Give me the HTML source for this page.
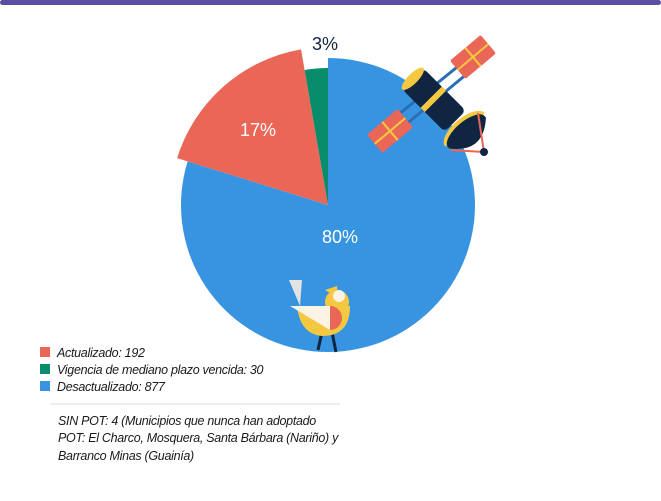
<!DOCTYPE html>
<html><head><meta charset="utf-8"><style>
body{margin:0;background:#fff;}
svg{display:block;font-family:"Liberation Sans",sans-serif;}
.lg{font-size:12.5px;font-style:italic;fill:#1a1a1a;letter-spacing:-0.3px;}
</style></head><body>
<svg id="c" width="661" height="501" viewBox="0 0 661 501" xmlns="http://www.w3.org/2000/svg">
<rect x="0" y="0" width="661" height="5" rx="2.5" fill="#5a4ea3"/>
<g id="slices"></g>
<g id="labels"></g>
<g>
 <line x1="372" y1="136" x2="472" y2="55" stroke="#2b6fb3" stroke-width="3"/>
 <line x1="380" y1="146" x2="480" y2="63" stroke="#2b6fb3" stroke-width="3"/>
 <g transform="translate(473,57) rotate(-40)"><rect x="-20" y="-12" width="40" height="24" rx="2" fill="#ea6657"/><line x1="0" y1="-12" x2="0" y2="12" stroke="#f5c842" stroke-width="2"/><line x1="-20" y1="0" x2="20" y2="0" stroke="#f5c842" stroke-width="2"/></g>
 <g transform="translate(390,131) rotate(-40)"><rect x="-20" y="-12" width="40" height="24" rx="2" fill="#ea6657"/><line x1="0" y1="-12" x2="0" y2="12" stroke="#f5c842" stroke-width="2"/><line x1="-20" y1="0" x2="20" y2="0" stroke="#f5c842" stroke-width="2"/></g>
 <g transform="translate(434,100) rotate(45)"><rect x="-30" y="-15" width="60" height="30" rx="5" fill="#102542"/><ellipse cx="-30" cy="0" rx="5" ry="15" fill="#f5c842"/><rect x="-4" y="-15" width="6" height="30" fill="#f5c842"/></g>
 <g transform="translate(465,130) rotate(-40)"><path d="M-26,0 A26,12 0 0 1 26,0 Z" fill="#f5c842"/><path d="M-24,2 A24,10 0 0 1 24,2 L24,4 Q0,30 -24,4 Z" fill="#102542"/></g>
 <line x1="450" y1="150" x2="484" y2="152" stroke="#ea6657" stroke-width="2"/>
 <line x1="484" y1="152" x2="478" y2="113" stroke="#ea6657" stroke-width="2"/>
 <circle cx="484" cy="152" r="4" fill="#102542"/>
</g>
<g>
 <line x1="322" y1="332" x2="318" y2="350" stroke="#102542" stroke-width="3"/>
 <line x1="332" y1="332" x2="336" y2="352" stroke="#102542" stroke-width="3"/>
 <polygon points="289,280 302,280 300,306" fill="#e3e3e3"/>
 <path d="M297,306 L350,306 Q350,336 322,336 Q300,334 297,306 Z" fill="#f5c842"/>
 <circle cx="337" cy="302" r="12" fill="#f5c842"/>
 <path d="M325,290 L337,286 L338,298 Z" fill="#f5c842"/>
 <circle cx="339" cy="296" r="6" fill="#fbf3e4"/>
 <polygon points="290,306 330,306 330,330" fill="#fbf3e4"/>
 <path d="M330,306 A12,12 0 0 1 330,330 Z" fill="#ea6657"/>
</g>
<g id="legend" class="lg">
 <rect x="40" y="347" width="10" height="10" fill="#ea6657"/>
 <text x="57" y="357">Actualizado: 192</text>
 <rect x="40" y="364" width="10" height="10" fill="#078c6c"/>
 <text x="57" y="374">Vigencia de mediano plazo vencida: 30</text>
 <rect x="40" y="381" width="10" height="10" fill="#3794e0"/>
 <text x="57" y="391">Desactualizado: 877</text>
 <line x1="50" y1="404" x2="340" y2="404" stroke="#dddddd" stroke-width="1"/>
 <text x="58" y="425">SIN POT: 4 (Municipios que nunca han adoptado</text>
 <text x="58" y="442">POT: El Charco, Mosquera, Santa Bárbara (Nariño) y</text>
 <text x="58" y="460">Barranco Minas (Guainía)</text>
</g>
</svg>
<script>
const categories=["Desactualizado","Actualizado","Vigencia de mediano plazo vencida"];
const values=[877,192,30];
const pctLabels=["80%","17%","3%"];
const colors=["#3794e0","#ea6657","#078c6c"];
const radii=[147,158,137];
const cx=328,cy=205;
const total=values.reduce((a,b)=>a+b,0);
const ns="http://www.w3.org/2000/svg";
function pt(a,r){return [cx+r*Math.sin(a),cy-r*Math.cos(a)];}
let start=0;
const sg=document.getElementById('slices'),lg=document.getElementById('labels');
values.forEach((v,i)=>{
 const ang=v/total*2*Math.PI,end=start+ang,r=radii[i];
 const p1=pt(start,r),p2=pt(end,r);
 const p=document.createElementNS(ns,'path');
 p.setAttribute('d',`M${cx},${cy} L${p1[0]},${p1[1]} A${r},${r} 0 ${ang>Math.PI?1:0} 1 ${p2[0]},${p2[1]} Z`);
 p.setAttribute('fill',colors[i]);
 
 
 sg.appendChild(p);
 const mid=start+ang/2;
 let lp,fill='#fff';
 if(i===2){lp=[325,50];fill='#102542';}
 else if(i===1){lp=[258,136];}
 else{lp=[340,243];}
 const t=document.createElementNS(ns,'text');
 t.setAttribute('x',lp[0]);t.setAttribute('y',lp[1]);
 t.setAttribute('text-anchor','middle');
 t.setAttribute('font-size','18');t.setAttribute('fill',fill);
 t.textContent=pctLabels[i];
 
 
 lg.appendChild(t);
 start=end;
});
</script>
</body></html>
